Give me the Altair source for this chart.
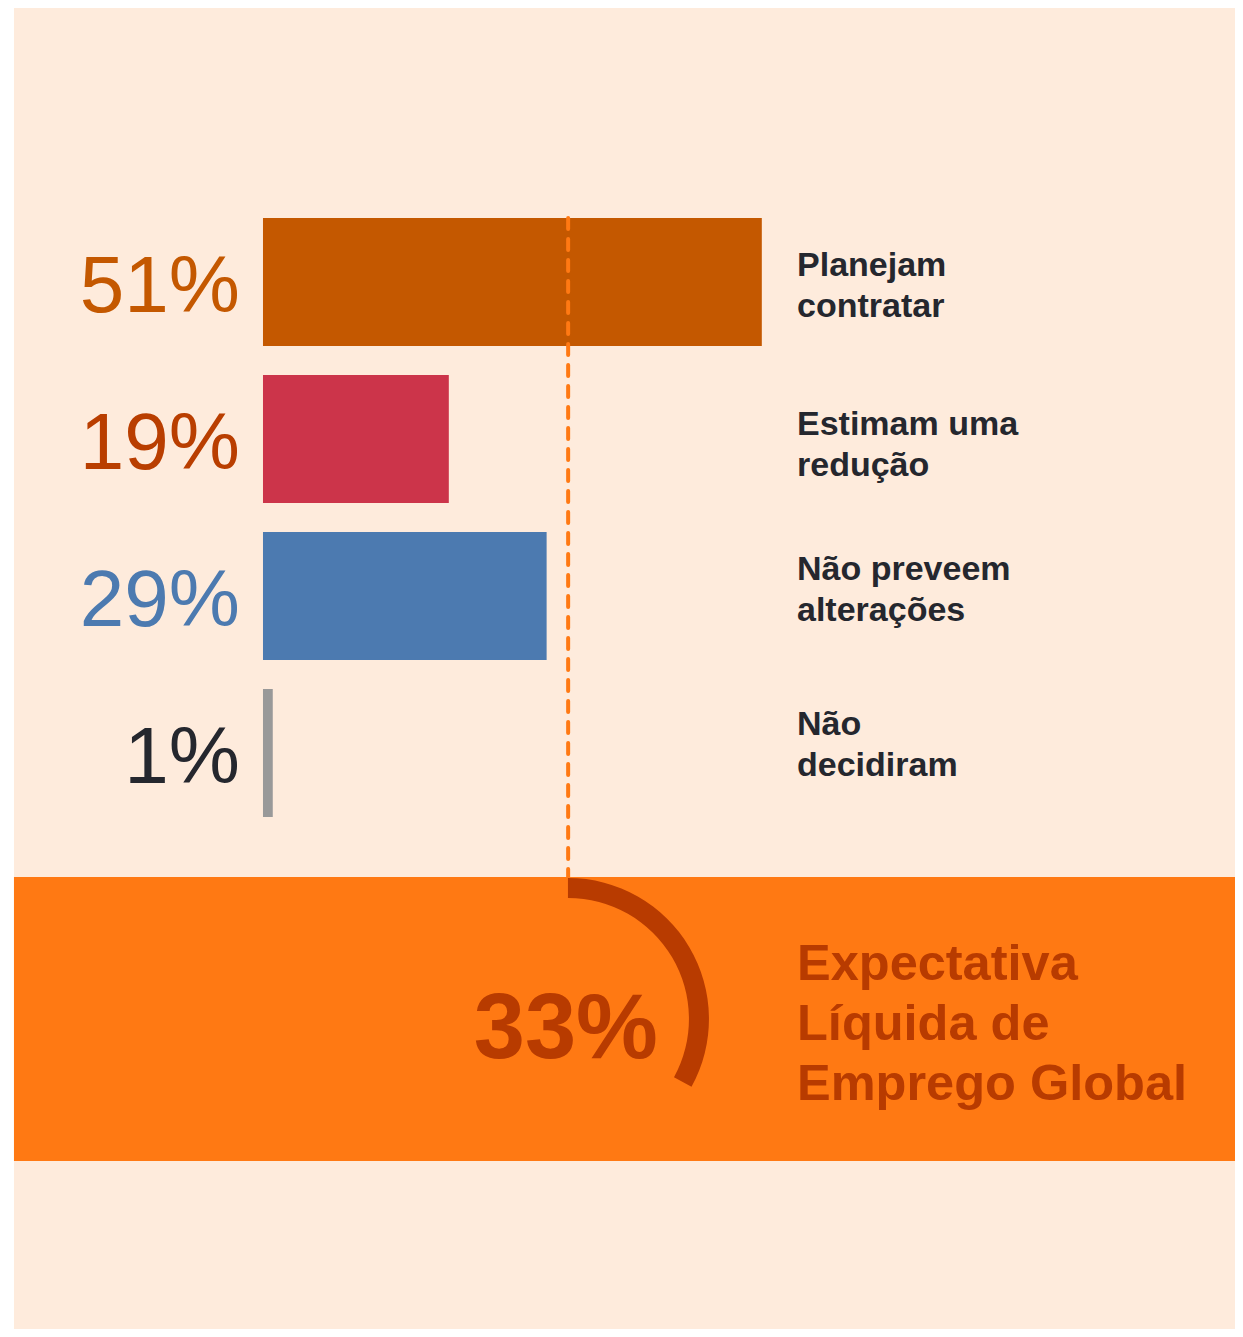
import math
import altair as alt
import pandas as pd

# ---- data ----
categories = ["Planejam\ncontratar", "Estimam uma\nredução", "Não preveem\nalterações", "Não\ndecidiram"]
values = [51, 19, 29, 1]
value_labels = ["51%", "19%", "29%", "1%"]
bar_colors = ["#C45800", "#CC344A", "#4C7AB0", "#999999"]
label_colors = ["#C45800", "#B93E00", "#4C7AB0", "#25272E"]
net_value = 33
net_label = "33%"
net_title = "Expectativa\nLíquida de\nEmprego Global"
ref_position = 31.2

# ---- layout (scale units) ----
W, H = 1227, 1321
x_dom = [-26.07, 99.38]
y_dom = [-1.7452, 6.669]
rows = [0, 1, 2, 3]
label_y = [-0.038, 0.975, 1.898, 2.885]
half_bar = 0.4076
label_x = 54.6
bg_left = -25.46
band_top, band_bottom = 3.79, 5.599

xs = alt.Scale(domain=x_dom, nice=False, zero=False)
ys = alt.Scale(domain=y_dom, nice=False, zero=False, reverse=True)
X = lambda f: alt.X(f, type="quantitative", scale=xs, axis=None)
Y = lambda f: alt.Y(f, type="quantitative", scale=ys, axis=None)

bg = pd.DataFrame({"x": [bg_left], "x2": [x_dom[1]], "y": [y_dom[0]], "y2": [y_dom[1]]})
band = pd.DataFrame({"x": [bg_left], "x2": [x_dom[1]], "y": [band_top], "y2": [band_bottom]})

bars = pd.DataFrame({
    "x0": [0] * 4,
    "v": values,
    "y": [r - half_bar for r in rows],
    "y2": [r + half_bar for r in rows],
    "row": rows,
    "color": bar_colors,
    "lab": value_labels,
    "lcolor": label_colors,
    "cat": categories,
    "ly": label_y,
    "lx": [label_x] * 4,
})

bg_layer = alt.Chart(bg).mark_rect(color="#FEEBDC").encode(
    x=X("x"), x2="x2", y=Y("y"), y2="y2")

bar_layer = alt.Chart(bars).mark_rect().encode(
    x=X("x0"), x2="v", y=Y("y"), y2="y2",
    color=alt.Color("color:N", scale=None))

value_text = alt.Chart(bars).mark_text(
    align="right", baseline="alphabetic", dx=-23, dy=30,
    fontSize=80, font="Liberation Sans").encode(
    x=X("x0"), y=Y("row"), text="lab:N",
    color=alt.Color("lcolor:N", scale=None))

cat_text = alt.Chart(bars).mark_text(
    align="left", baseline="alphabetic", lineBreak="\n", lineHeight=41,
    fontSize=34, fontWeight="bold", font="Liberation Sans", color="#25272E").encode(
    x=X("lx"), y=Y("ly"), text="cat:N")

ref = pd.DataFrame({"x": [ref_position], "y": [-half_bar], "y2": [band_top]})
ref_layer = alt.Chart(ref).mark_rule(
    strokeDash=[11, 10], strokeWidth=4, strokeCap="round", color="#FF7913").encode(
    x=X("x"), y=Y("y"), y2="y2")

band_layer = alt.Chart(band).mark_rect(color="#FF7913").encode(
    x=X("x"), x2="x2", y=Y("y"), y2="y2")

arc_df = pd.DataFrame({"x": [31.18], "y": [4.694]})
arc_layer = alt.Chart(arc_df).mark_arc(
    radius=141, innerRadius=121, theta=0, theta2=net_value / 100 * 2 * math.pi,
    color="#B83B00").encode(x=X("x"), y=Y("y"))

net_df = pd.DataFrame({"x": [30.96], "y": [4.943], "t": [net_label]})
net_text = alt.Chart(net_df).mark_text(
    align="center", baseline="alphabetic", fontSize=92, fontWeight="bold",
    font="Liberation Sans", color="#B83B00").encode(
    x=X("x"), y=Y("y"), text="t:N")

title_df = pd.DataFrame({"x": [label_x], "y": [4.446], "t": [net_title]})
title_text = alt.Chart(title_df).mark_text(
    align="left", baseline="alphabetic", lineBreak="\n", lineHeight=60,
    fontSize=50.5, fontWeight="bold", font="Liberation Sans", color="#B83B00").encode(
    x=X("x"), y=Y("y"), text="t:N")

chart = alt.layer(
    bg_layer, bar_layer, value_text, cat_text, band_layer, ref_layer,
    arc_layer, net_text, title_text
).properties(
    width=W, height=H, padding=0,
    autosize=alt.AutoSizeParams(type="none"),
    background="white",
).configure_view(stroke=None)

chart.save("out.html", embed_options={"renderer": "svg", "actions": False})
